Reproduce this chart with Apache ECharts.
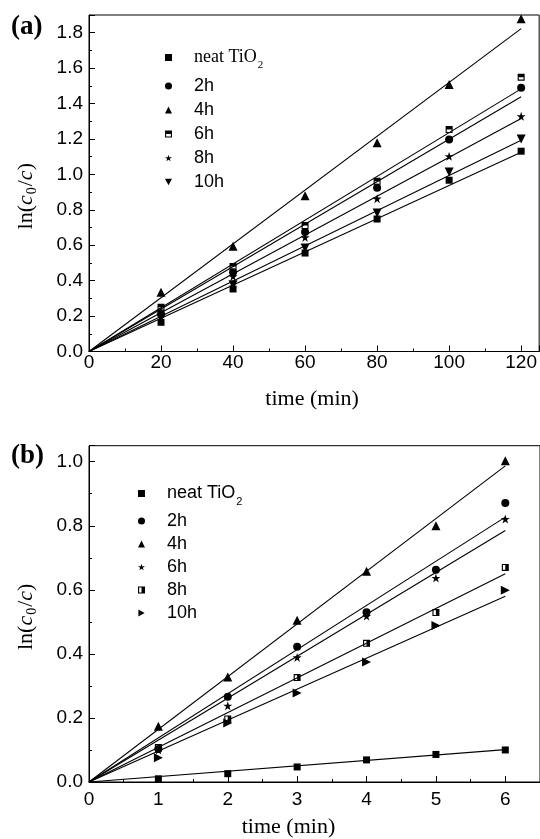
<!DOCTYPE html>
<html><head><meta charset="utf-8">
<script src="https://cdn.jsdelivr.net/npm/echarts@6/dist/echarts.min.js"></script>
<style>html,body{margin:0;padding:0;background:#fff}#c{width:540px;height:839px}</style>
</head><body><div id="c"></div>
<script>
// ---- panel (a) ----
const timeA = [20, 40, 60, 80, 100, 120];
const labelsA = ['neat TiO2', '2h', '4h', '6h', '8h', '10h'];
const a_neat = [0.165, 0.353, 0.556, 0.748, 0.967, 1.131];
const a_2h   = [0.21, 0.447, 0.675, 0.924, 1.197, 1.489];
const a_4h   = [0.334, 0.594, 0.880, 1.178, 1.508, 1.879];
const a_6h   = [0.25, 0.48, 0.711, 0.961, 1.253, 1.549];
const a_8h   = [0.225, 0.424, 0.644, 0.863, 1.102, 1.328];
const a_10h  = [0.19, 0.377, 0.585, 0.782, 1.014, 1.2];
const a_fitEnd = [1.125, 1.438, 1.823, 1.483, 1.315, 1.193]; // fit value at t=120, same order

// ---- panel (b) ----
const timeB = [1, 2, 3, 4, 5, 6];
const labelsB = ['neat TiO2', '2h', '4h', '6h', '8h', '10h'];
const b_neat = [0.010, 0.026, 0.047, 0.069, 0.086, 0.100];
const b_2h   = [0.103, 0.266, 0.422, 0.530, 0.663, 0.871];
const b_4h   = [0.174, 0.328, 0.505, 0.658, 0.800, 1.003];
const b_6h   = [0.100, 0.238, 0.389, 0.518, 0.637, 0.821];
const b_8h   = [0.108, 0.197, 0.326, 0.433, 0.529, 0.670];
const b_10h  = [0.076, 0.184, 0.278, 0.375, 0.489, 0.599];
const b_fitEnd = [0.101, 0.827, 0.987, 0.785, 0.650, 0.580]; // fit value at t=6

const TRI_DOWN = 'path://M0,0L10,0L5,9Z';
const TRI_RIGHT = 'path://M0,0L9,5L0,10Z';
const STAR = 'path://M5,0L6.18,3.62L10,3.62L6.91,5.85L8.09,9.5L5,7.24L1.91,9.5L3.09,5.85L0,3.62L3.82,3.62Z';
const HALF_TOP = 'path://M0,0L10,0L10,10L0,10ZM1.6,5L1.6,8.4L8.4,8.4L8.4,5Z';
const HALF_RIGHT = 'path://M0,0L10,0L10,10L0,10ZM1.6,1.6L1.6,8.4L5,8.4L5,1.6Z';

const symA = [['rect', 7], ['circle', 8], ['triangle', 9], [HALF_TOP, 7], [STAR, 9], [TRI_DOWN, 9]];
const symB = [['rect', 7], ['circle', 8], ['triangle', 9], [STAR, 9], [HALF_RIGHT, 7], [TRI_RIGHT, 9]];

const dataA = [a_neat, a_2h, a_4h, a_6h, a_8h, a_10h];
const dataB = [b_neat, b_2h, b_4h, b_6h, b_8h, b_10h];

const SERIF = 'Liberation Serif';
const SANS = 'Liberation Sans';

const series = [];
const legendA = [], legendB = [];
const displayName = {};
function addPanel(idx, prefix, xs, data, labels, syms, fitEnd, legendArr) {
  data.forEach((ys, k) => {
    const nm = prefix + k;
    displayName[nm] = labels[k];
    legendArr.push(nm);
    series.push({
      type: 'line', xAxisIndex: idx, yAxisIndex: idx, silent: true,
      data: [[0, 0], [xs[xs.length - 1], fitEnd[k]]],
      showSymbol: false, symbol: 'none', lineStyle: {color: '#000', width: 1.1}, z: 2
    });
    series.push({
      type: 'scatter', name: nm, xAxisIndex: idx, yAxisIndex: idx,
      data: xs.map((x, i) => [x, ys[i]]),
      symbol: syms[k][0], symbolSize: syms[k][1], itemStyle: {color: '#000', opacity: 1}, z: 3
    });
  });
}
addPanel(0, 'a', timeA, dataA, labelsA, symA, a_fitEnd, legendA);
addPanel(1, 'b', timeB, dataB, labelsB, symB, b_fitEnd, legendB);

function legendRich(mainFont) {
  return {
    m: {fontFamily: mainFont, fontSize: 18, lineHeight: 18, color: '#000', padding: [0, 0, 0, 17]},
    s: {fontFamily: SANS, fontSize: 18, lineHeight: 18, color: '#000', padding: [0, 0, 0, 17]},
    sub: {fontFamily: mainFont, fontSize: 11, lineHeight: 11, color: '#000', padding: [16, 0, 0, 1]}
  };
}
function legendFmt(name) {
  const t = displayName[name];
  if (t.indexOf('TiO2') >= 0) return '{m|neat TiO}{sub|2}';
  return '{s|' + t + '}';
}

function xAxis(idx, max, interval, margin, nameGap, namePad) {
  return {
    gridIndex: idx, type: 'value', min: 0, max: max, interval: interval,
    name: 'time (min)', nameLocation: 'middle', nameGap: nameGap,
    nameTextStyle: {fontFamily: SERIF, fontSize: 22, color: '#000', padding: namePad},
    axisLine: {lineStyle: {color: '#000', width: 1}},
    axisTick: {inside: true, length: 6, lineStyle: {color: '#000'}},
    minorTick: {show: true, splitNumber: 2, length: 3, lineStyle: {color: '#000'}},
    splitLine: {show: false},
    axisLabel: {fontFamily: SANS, fontSize: 19, color: '#000', margin: margin, showMaxLabel: false}
  };
}
function yAxis(idx, max, nameGap, namePad) {
  return {
    gridIndex: idx, type: 'value', min: 0, max: max, interval: 0.2,
    name: '{t|ln(}{i|c}{b|0}{t|/}{i|c}{t|)}', nameLocation: 'middle', nameGap: nameGap,
    nameTextStyle: {
      padding: namePad,
      rich: {
        t: {fontFamily: SERIF, fontSize: 22, lineHeight: 22, color: '#000'},
        i: {fontFamily: SERIF, fontStyle: 'italic', fontSize: 22, lineHeight: 22, color: '#000'},
        b: {fontFamily: SERIF, fontSize: 14, lineHeight: 14, color: '#000', padding: [13, 1, 0, 1]}
      }
    },
    axisLine: {lineStyle: {color: '#000', width: 1}},
    axisTick: {inside: true, length: 6, lineStyle: {color: '#000'}},
    minorTick: {show: true, splitNumber: 2, length: 3, lineStyle: {color: '#000'}},
    splitLine: {show: false},
    axisLabel: {fontFamily: SANS, fontSize: 19, color: '#000', margin: 6, showMaxLabel: false,
      formatter: v => v.toFixed(1)}
  };
}

const chart = echarts.init(document.getElementById('c'), null, {renderer: 'canvas'});
chart.setOption({
  backgroundColor: '#fff',
  animation: false,
  title: [
    {text: '(a)', left: 11, top: 14, padding: 0, textStyle: {fontFamily: SERIF, fontWeight: 'bold', fontSize: 27, color: '#000'}},
    {text: '(b)', left: 11, top: 443, padding: 0, textStyle: {fontFamily: SERIF, fontWeight: 'bold', fontSize: 27, color: '#000'}}
  ],
  grid: [
    {left: 89, top: 15, width: 455, height: 336.5, show: true, borderColor: '#000', borderWidth: 1},
    {left: 89, top: 445.7, width: 455, height: 337.6, show: true, borderColor: '#000', borderWidth: 1}
  ],
  xAxis: [xAxis(0, 125, 20, 2, 37, [0, 4, 0, 0]), xAxis(1, 6.5, 1, 8, 34, [0, 52, 0, 0])],
  yAxis: [yAxis(0, 1.9, 52, [0, 26, 0, 0]), yAxis(1, 1.05, 52, [0, 6, 0, 0])],
  legend: [
    {data: legendA, orient: 'vertical', left: 165, top: 44, padding: 0, itemGap: 6,
     itemWidth: 7, itemHeight: 7, formatter: legendFmt, selectedMode: false,
     textStyle: {rich: legendRich(SERIF)}},
    {data: legendB, orient: 'vertical', left: 138, top: 480, padding: 0, itemGap: 5,
     itemWidth: 7, itemHeight: 7, formatter: legendFmt, selectedMode: false,
     textStyle: {rich: legendRich(SANS)}}
  ],
  series: series
});
</script></body></html>
